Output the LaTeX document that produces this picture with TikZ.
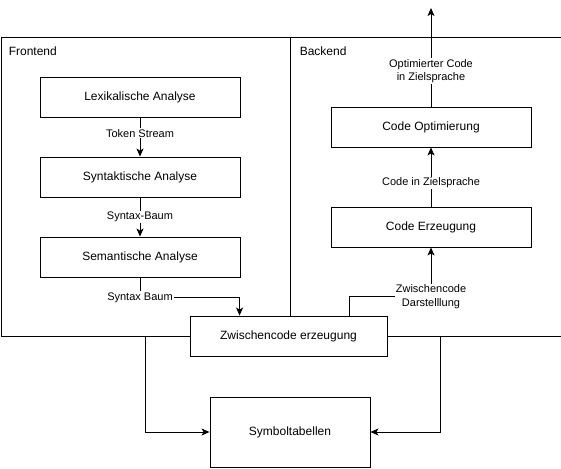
\documentclass[tikz,border=0pt]{standalone}
\usepackage{fontspec}
\setmainfont{Liberation Sans}
\usetikzlibrary{arrows.meta}

\begin{document}
\begin{tikzpicture}[x=1pt,y=-1pt,line width=0.9pt,>={Stealth[length=8pt,width=7pt,inset=2pt]},
  stage/.style={draw,fill=white,inner sep=0pt,minimum width=200pt,minimum height=40pt,font=\fontsize{12}{14}\selectfont},
  part/.style={draw,inner sep=0pt,anchor=north west},
  lbl/.style={fill=white,inner sep=1pt,align=center,font=\fontsize{11}{13.5}\selectfont}]
\useasboundingbox (0,0) rectangle (561,468);
% Frontend / Backend
\node[part,minimum width=289.5pt,minimum height=299pt] (front) at (0.5,37) {};
\node[part,minimum width=270.5pt,minimum height=299pt] (back) at (290,37) {};
\node[anchor=west,font=\fontsize{12}{14}\selectfont] (frontlbl) at (5,51) {Frontend};
\node[anchor=west,font=\fontsize{12}{14}\selectfont] (backlbl) at (296,51) {Backend};
\node[stage] (lex) at (140,97) {Lexikalische Analyse};
\node[stage] (syn) at (140,177) {Syntaktische Analyse};
\node[stage] (sem) at (140,257) {Semantische Analyse};
\node[stage] (erz) at (431,227) {Code Erzeugung};
\node[stage] (opt) at (431,127) {Code Optimierung};
\node[stage,minimum width=197pt] (zw) at (288.5,336) {Zwischencode erzeugung};
\node[stage,minimum width=160pt,minimum height=70pt] (sym) at (290,432) {Symboltabellen};
\coordinate (out) at (431,8);
\coordinate (bk) at (440,336);
% Pfeile
\draw[->] (lex) -- node[lbl,pos=0.4]{Token Stream} (syn);
\draw[->] (syn) -- node[lbl]{Syntax-Baum} (sem);
\draw[->] (sem.south) -- ++(0,20) node[lbl]{Syntax Baum} -| ([xshift=50pt]zw.north west);
\draw[->] ([xshift=160pt]zw.north west) -- ++(0,-19) -| node[lbl,pos=0.5]{Zwischencode\\Darstelllung} (erz.south);
\draw[->] (erz) -- node[lbl,pos=0.4]{Code in Zielsprache} (opt);
\draw[->] (opt) -- node[lbl,pos=0.36]{Optimierter Code\\in Zielsprache} (out);
\draw[->] (front.south) |- (sym.west);
\draw[->] (bk) |- (sym.east);
\end{tikzpicture}
\end{document}
